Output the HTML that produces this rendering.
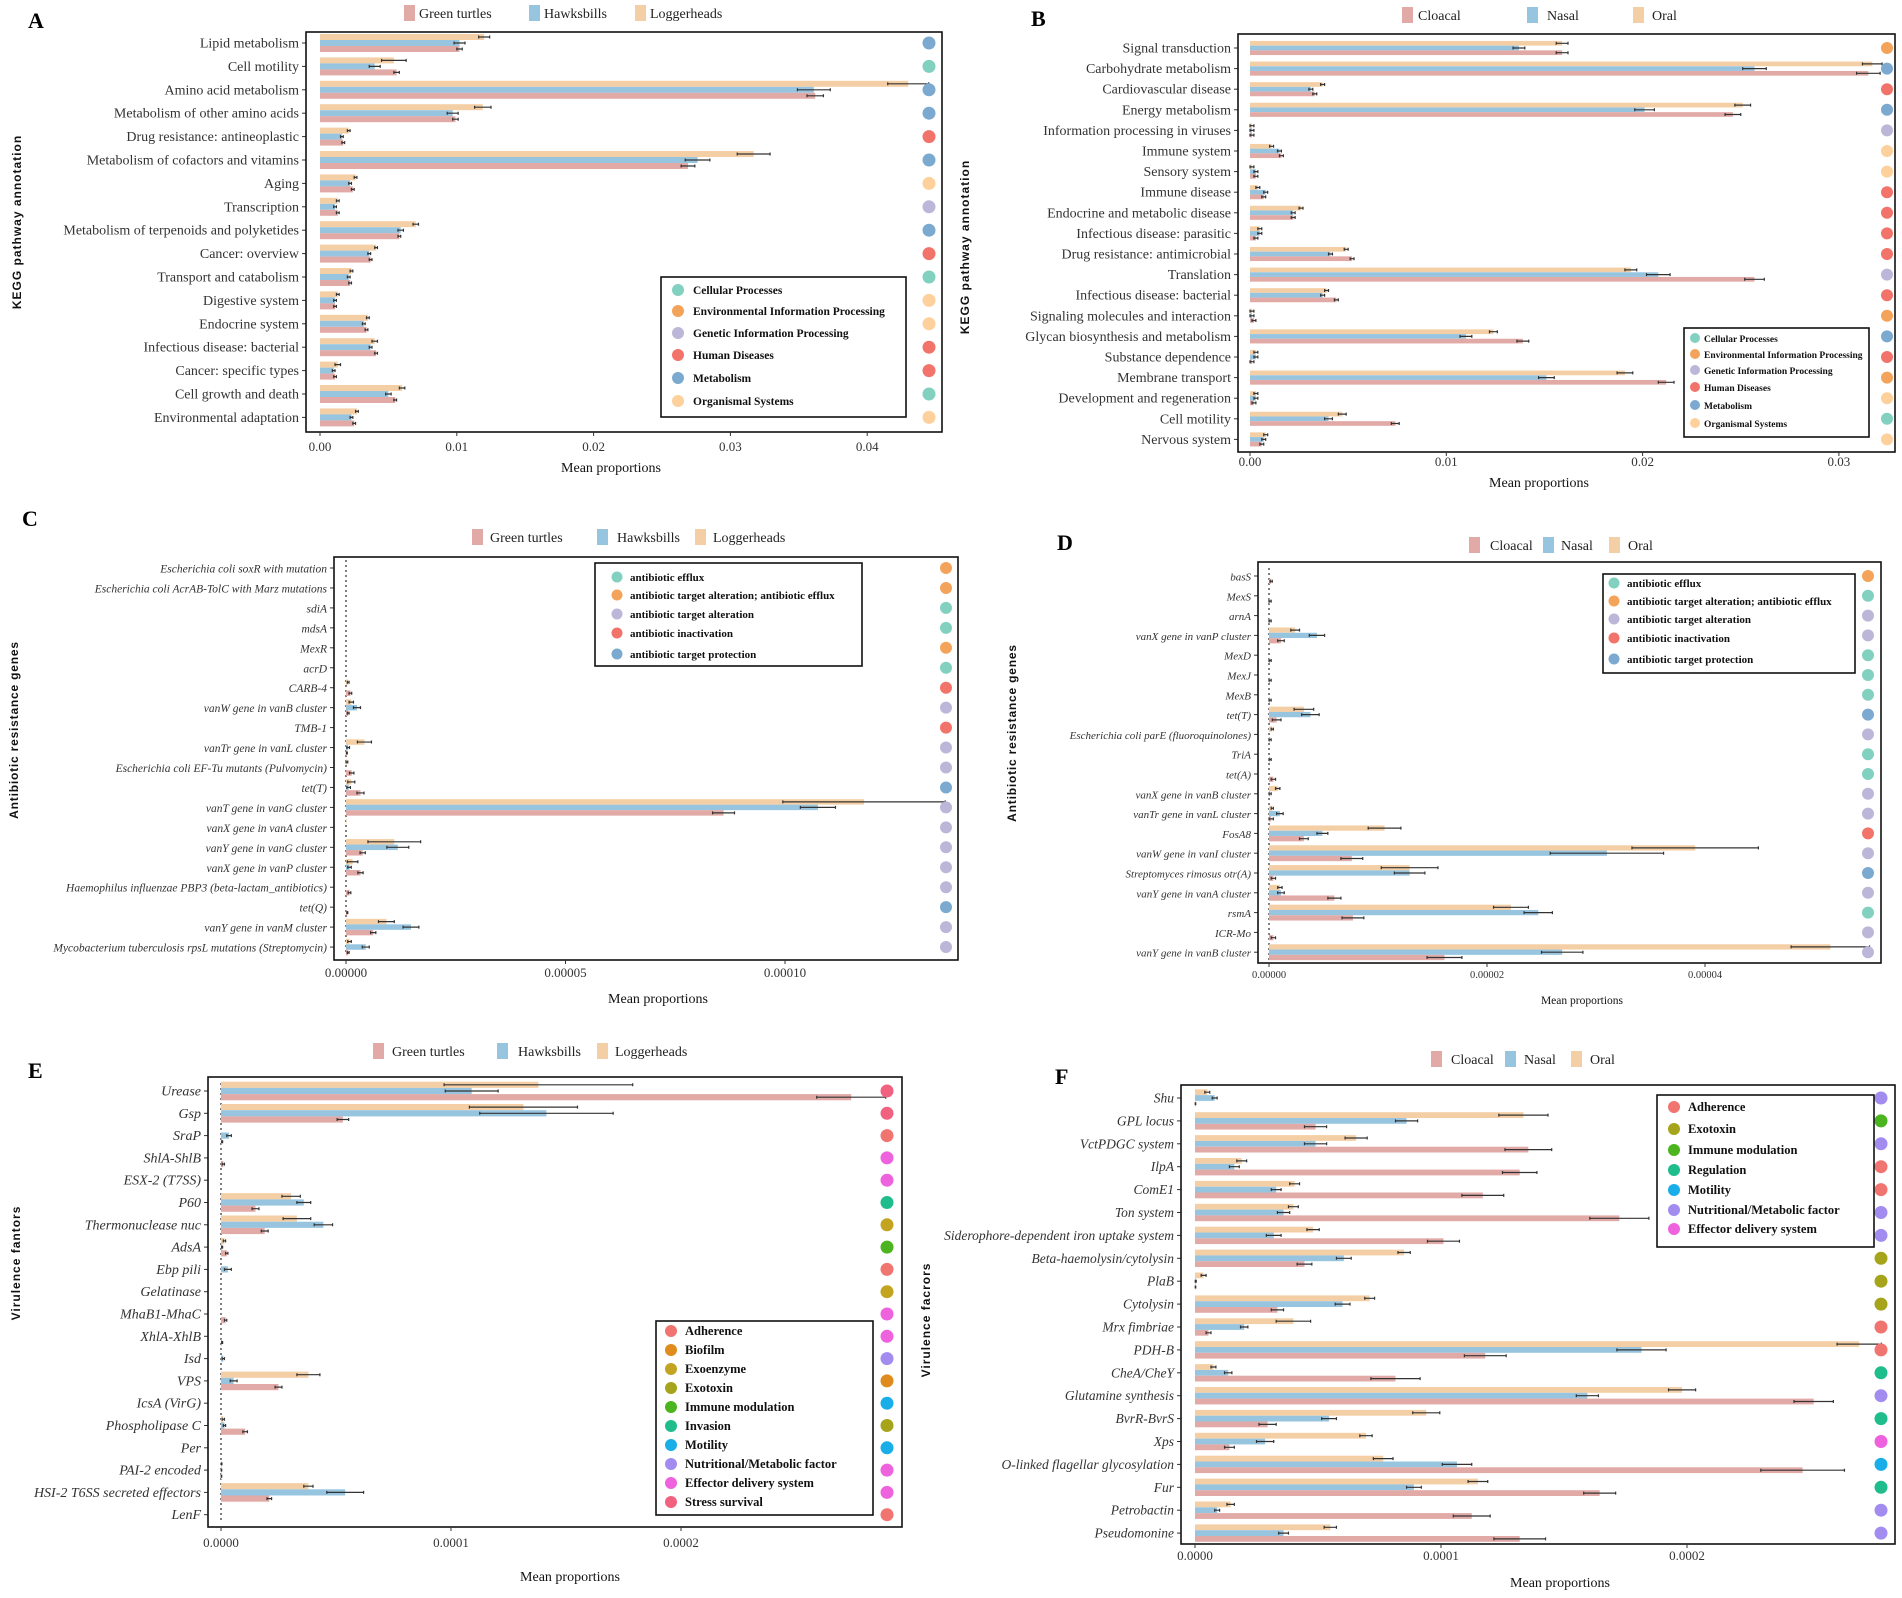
<!DOCTYPE html>
<html><head><meta charset="utf-8"><title>Functional profiles</title>
<style>
html,body{margin:0;padding:0;background:#fff;}
svg{display:block;font-family:"Liberation Serif",serif;}
</style></head>
<body>
<svg id="fig" width="1902" height="1598" viewBox="0 0 1902 1598" xmlns="http://www.w3.org/2000/svg"></svg>
<script>
// ---------- Panel A data ----------
const aCategories=["Lipid metabolism","Cell motility","Amino acid metabolism","Metabolism of other amino acids","Drug resistance: antineoplastic","Metabolism of cofactors and vitamins","Aging","Transcription","Metabolism of terpenoids and polyketides","Cancer: overview","Transport and catabolism","Digestive system","Endocrine system","Infectious disease: bacterial","Cancer: specific types","Cell growth and death","Environmental adaptation"];
const aLoggerheads=[0.0120,0.0054,0.0430,0.0119,0.0021,0.0317,0.0026,0.0013,0.0070,0.0041,0.0023,0.0013,0.0035,0.0040,0.0013,0.0060,0.0027];
const aHawksbills=[0.0102,0.0040,0.0361,0.0097,0.0016,0.0276,0.0022,0.0011,0.0059,0.0036,0.0021,0.0011,0.0032,0.0037,0.0010,0.0050,0.0023];
const aGreenTurtles=[0.0102,0.0056,0.0362,0.0099,0.0017,0.0269,0.0024,0.0013,0.0058,0.0037,0.0022,0.0011,0.0034,0.0041,0.0011,0.0055,0.0025];
const aErrLoggerheads=[0.0004,0.0009,0.0015,0.0006,0.0001,0.0012,0.0001,0.0001,0.0002,0.0001,0.0001,0.0001,0.0001,0.0002,0.0002,0.0002,0.0001];
const aErrHawksbills=[0.0004,0.0004,0.0012,0.0004,0.0001,0.0009,0.0001,0.0001,0.0002,0.0001,0.0001,0.0001,0.0001,0.0001,0.0001,0.0002,0.0001];
const aErrGreenTurtles=[0.0002,0.0002,0.0006,0.0002,0.0001,0.0005,0.0001,0.0001,0.0001,0.0001,0.0001,0.0001,0.0001,0.0001,0.0001,0.0001,0.0001];
const aClasses=["M","C","M","M","H","M","O","G","M","H","C","O","O","H","H","C","O"];
const aTicks=[0,0.01,0.02,0.03,0.04];
const aTickLabels=["0.00","0.01","0.02","0.03","0.04"];

// ---------- Panel B data ----------
const bCategories=["Signal transduction","Carbohydrate metabolism","Cardiovascular disease","Energy metabolism","Information processing in viruses","Immune system","Sensory system","Immune disease","Endocrine and metabolic disease","Infectious disease: parasitic","Drug resistance: antimicrobial","Translation","Infectious disease: bacterial","Signaling molecules and interaction","Glycan biosynthesis and metabolism","Substance dependence","Membrane transport","Development and regeneration","Cell motility","Nervous system"];
const bOral=[0.0159,0.0317,0.0037,0.0251,0.0001,0.0011,0.0001,0.0004,0.0026,0.0005,0.0049,0.0194,0.0039,0.0001,0.0124,0.0003,0.0191,0.0003,0.0047,0.0008];
const bNasal=[0.0137,0.0257,0.0031,0.0201,0.0001,0.0015,0.0003,0.0008,0.0022,0.0005,0.0041,0.0208,0.0037,0.0001,0.0110,0.0003,0.0151,0.0003,0.0040,0.0007];
const bCloacal=[0.0159,0.0315,0.0033,0.0246,0.0001,0.0016,0.0003,0.0007,0.0022,0.0003,0.0052,0.0257,0.0044,0.0002,0.0139,0.0001,0.0212,0.0002,0.0074,0.0006];
const bErrOral=[0.0003,0.0005,0.0001,0.0004,0.0001,0.0001,0.0001,0.0001,0.0001,0.0001,0.0001,0.0003,0.0001,0.0001,0.0002,0.0001,0.0004,0.0001,0.0002,0.0001];
const bErrNasal=[0.0003,0.0006,0.0001,0.0005,0.0001,0.0001,0.0001,0.0001,0.0001,0.0001,0.0001,0.0006,0.0001,0.0001,0.0003,0.0001,0.0004,0.0001,0.0002,0.0001];
const bErrCloacal=[0.0003,0.0006,0.0001,0.0004,0.0001,0.0001,0.0001,0.0001,0.0001,0.0001,0.0001,0.0005,0.0001,0.0001,0.0003,0.0001,0.0004,0.0001,0.0002,0.0001];
const bClasses=["E","M","H","M","G","O","O","H","H","H","H","G","H","E","M","H","E","O","C","O"];
const bTicks=[0,0.01,0.02,0.03];
const bTickLabels=["0.00","0.01","0.02","0.03"];

// ---------- Panel C data ----------
const cCategories=["Escherichia coli soxR with mutation","Escherichia coli AcrAB-TolC with Marz mutations","sdiA","mdsA","MexR","acrD","CARB-4","vanW gene in vanB cluster","TMB-1","vanTr gene in vanL cluster","Escherichia coli EF-Tu mutants (Pulvomycin)","tet(T)","vanT gene in vanG cluster","vanX gene in vanA cluster","vanY gene in vanG cluster","vanX gene in vanP cluster","Haemophilus influenzae PBP3 (beta-lactam_antibiotics)","tet(Q)","vanY gene in vanM cluster","Mycobacterium tuberculosis rpsL mutations (Streptomycin)"];
const cLoggerheads=[0,0,0,0,0,0,0.05e-5,0.12e-5,0,0.42e-5,0.02e-5,0.12e-5,11.8e-5,0.01e-5,1.1e-5,0.15e-5,0,0,0.92e-5,0.08e-5];
const cHawksbills=[0,0,0,0,0,0,0,0.25e-5,0,0.05e-5,0,0.06e-5,10.75e-5,0,1.18e-5,0.08e-5,0,0,1.48e-5,0.45e-5];
const cGreenTurtles=[0,0,0,0,0,0,0.1e-5,0.05e-5,0,0.02e-5,0.13e-5,0.33e-5,8.6e-5,0,0.38e-5,0.33e-5,0.08e-5,0.03e-5,0.62e-5,0.05e-5];
const cErrLoggerheads=[0,0,0,0,0,0,0.02e-5,0.05e-5,0,0.16e-5,0.02e-5,0.08e-5,1.85e-5,0,0.6e-5,0.12e-5,0,0,0.18e-5,0.04e-5];
const cErrHawksbills=[0,0,0,0,0,0,0,0.08e-5,0,0.03e-5,0,0.04e-5,0.4e-5,0,0.25e-5,0.04e-5,0,0,0.18e-5,0.08e-5];
const cErrGreenTurtles=[0,0,0,0,0,0,0.03e-5,0.02e-5,0,0.01e-5,0.05e-5,0.08e-5,0.25e-5,0,0.06e-5,0.06e-5,0.03e-5,0.01e-5,0.06e-5,0.02e-5];
const cClasses=["tae","tae","ef","ef","tae","ef","ia","ta","ia","ta","ta","tp","ta","ta","ta","ta","ta","tp","ta","ta"];
const cTicks=[0,5e-5,10e-5];
const cTickLabels=["0.00000","0.00005","0.00010"];

// ---------- Panel D data ----------
const dCategories=["basS","MexS","arnA","vanX gene in vanP cluster","MexD","MexJ","MexB","tet(T)","Escherichia coli parE (fluoroquinolones)","TriA","tet(A)","vanX gene in vanB cluster","vanTr gene in vanL cluster","FosA8","vanW gene in vanI cluster","Streptomyces rimosus otr(A)","vanY gene in vanA cluster","rsmA","ICR-Mo","vanY gene in vanB cluster"];
const dOral=[0,0,0,0.24e-5,0,0,0,0.32e-5,0.03e-5,0,0,0.08e-5,0.03e-5,1.06e-5,3.91e-5,1.29e-5,0.1e-5,2.22e-5,0,5.15e-5];
const dNasal=[0,0,0,0.44e-5,0,0,0,0.38e-5,0,0,0,0.01e-5,0.1e-5,0.49e-5,3.1e-5,1.29e-5,0.11e-5,2.47e-5,0,2.69e-5];
const dCloacal=[0.02e-5,0.01e-5,0.01e-5,0.11e-5,0.01e-5,0.01e-5,0.01e-5,0.07e-5,0.01e-5,0.01e-5,0.04e-5,0,0.02e-5,0.32e-5,0.76e-5,0.04e-5,0.6e-5,0.77e-5,0.04e-5,1.61e-5];
const dErrOral=[0,0,0,0.04e-5,0,0,0,0.09e-5,0.01e-5,0,0,0.02e-5,0.01e-5,0.15e-5,0.58e-5,0.26e-5,0.02e-5,0.16e-5,0,0.36e-5];
const dErrNasal=[0,0,0,0.07e-5,0,0,0,0.08e-5,0,0,0,0.01e-5,0.03e-5,0.05e-5,0.52e-5,0.14e-5,0.03e-5,0.13e-5,0,0.19e-5];
const dErrCloacal=[0.01e-5,0.01e-5,0.01e-5,0.03e-5,0.01e-5,0.01e-5,0.01e-5,0.04e-5,0.01e-5,0.01e-5,0.02e-5,0,0.02e-5,0.04e-5,0.1e-5,0.02e-5,0.06e-5,0.1e-5,0.02e-5,0.16e-5];
const dClasses=["tae","ef","ta","ta","ef","ef","ef","tp","ta","ef","ef","ta","ta","ia","ta","tp","ta","ef","ta","ta"];
const dTicks=[0,2e-5,4e-5];
const dTickLabels=["0.00000","0.00002","0.00004"];

// ---------- Panel E data ----------
const eCategories=["Urease","Gsp","SraP","ShlA-ShlB","ESX-2 (T7SS)","P60","Thermonuclease nuc","AdsA","Ebp pili","Gelatinase","MhaB1-MhaC","XhlA-XhlB","Isd","VPS","IcsA (VirG)","Phospholipase C","Per","PAI-2 encoded","HSI-2 T6SS secreted effectors","LenF"];
const eLoggerheads=[13.8e-5,13.15e-5,0,0,0,3.05e-5,3.3e-5,0.15e-5,0,0,0,0,0,3.8e-5,0,0.1e-5,0,0.03e-5,3.8e-5,0];
const eHawksbills=[10.9e-5,14.15e-5,0.35e-5,0,0,3.6e-5,4.45e-5,0.05e-5,0.3e-5,0,0,0,0.1e-5,0.55e-5,0,0.15e-5,0,0.02e-5,5.4e-5,0];
const eGreenTurtles=[27.4e-5,5.3e-5,0.05e-5,0.1e-5,0,1.5e-5,1.9e-5,0.25e-5,0,0,0.2e-5,0.05e-5,0,2.5e-5,0,1.05e-5,0,0.02e-5,2.1e-5,0];
const eErrLoggerheads=[4.1e-5,2.35e-5,0,0,0,0.4e-5,0.6e-5,0.05e-5,0,0,0,0,0,0.5e-5,0,0.05e-5,0,0.01e-5,0.2e-5,0];
const eErrHawksbills=[1.15e-5,2.9e-5,0.1e-5,0,0,0.3e-5,0.4e-5,0.02e-5,0.15e-5,0,0,0,0.05e-5,0.15e-5,0,0.05e-5,0,0.01e-5,0.8e-5,0];
const eErrGreenTurtles=[1.5e-5,0.25e-5,0.02e-5,0.05e-5,0,0.15e-5,0.15e-5,0.05e-5,0,0,0.05e-5,0.02e-5,0,0.15e-5,0,0.1e-5,0,0.01e-5,0.1e-5,0];
const eClasses=["St","St","Ad","Ef","Ef","Inv","Exz","Im","Ad","Exz","Ef","Ef","Nu","Bi","Mo","Ext","Mo","Ef","Ef","Ad"];
const eTicks=[0,1e-4,2e-4];
const eTickLabels=["0.0000","0.0001","0.0002"];

// ---------- Panel F data ----------
const fCategories=["Shu","GPL locus","VctPDGC system","IlpA","ComE1","Ton system","Siderophore-dependent iron uptake system","Beta-haemolysin/cytolysin","PlaB","Cytolysin","Mrx fimbriae","PDH-B","CheA/CheY","Glutamine synthesis","BvrR-BvrS","Xps","O-linked flagellar glycosylation","Fur","Petrobactin","Pseudomonine"];
const fOral=[0.5e-5,13.35e-5,6.55e-5,1.9e-5,4.05e-5,4.0e-5,4.8e-5,8.5e-5,0.35e-5,7.1e-5,4.0e-5,27.0e-5,0.75e-5,19.8e-5,9.4e-5,6.95e-5,7.65e-5,11.5e-5,1.45e-5,5.5e-5];
const fNasal=[0.8e-5,8.6e-5,4.9e-5,1.6e-5,3.3e-5,3.6e-5,3.2e-5,6.05e-5,0.03e-5,6.0e-5,2.0e-5,18.15e-5,1.35e-5,15.95e-5,5.45e-5,2.85e-5,10.65e-5,8.9e-5,0.9e-5,3.6e-5];
const fCloacal=[0.02e-5,4.9e-5,13.55e-5,13.2e-5,11.7e-5,17.25e-5,10.1e-5,4.45e-5,0.02e-5,3.35e-5,0.55e-5,11.8e-5,8.15e-5,25.15e-5,2.95e-5,1.4e-5,24.7e-5,16.45e-5,11.25e-5,13.2e-5];
const fErrOral=[0.1e-5,1.0e-5,0.45e-5,0.2e-5,0.2e-5,0.2e-5,0.25e-5,0.25e-5,0.1e-5,0.2e-5,0.7e-5,0.9e-5,0.1e-5,0.55e-5,0.55e-5,0.25e-5,0.4e-5,0.4e-5,0.15e-5,0.25e-5];
const fErrNasal=[0.1e-5,0.45e-5,0.45e-5,0.2e-5,0.2e-5,0.25e-5,0.3e-5,0.3e-5,0.02e-5,0.3e-5,0.15e-5,1.0e-5,0.15e-5,0.45e-5,0.3e-5,0.35e-5,0.6e-5,0.3e-5,0.1e-5,0.2e-5];
const fErrCloacal=[0.01e-5,0.45e-5,0.95e-5,0.7e-5,0.85e-5,1.2e-5,0.65e-5,0.3e-5,0.01e-5,0.25e-5,0.1e-5,0.85e-5,1.0e-5,0.8e-5,0.35e-5,0.2e-5,1.7e-5,0.65e-5,0.75e-5,1.05e-5];
const fClasses=["Nu","Im","Nu","Ad","Ad","Nu","Nu","Ext","Ext","Ext","Ad","Ad","Re","Nu","Re","Ef","Mo","Re","Nu","Nu"];
const fTicks=[0,1e-4,2e-4];
const fTickLabels=["0.0000","0.0001","0.0002"];

// ---------- colours ----------
const COL_O="#f4cfa6",COL_B="#97c5e0",COL_P="#e2aaa6";
const keggCol={C:"#82d1c0",E:"#f4a45a",G:"#bcb7d9",H:"#f2736a",M:"#7ba9cf",O:"#fdd09c"};
const argCol={ef:"#82d1c0",tae:"#f4a45a",ta:"#bcb7d9",ia:"#f2736a",tp:"#7ba9cf"};
const vfCol={Ad:"#f07470",Bi:"#e08b1e",Exz:"#c2a420",Ext:"#a5a41a",Im:"#4cb41e",Inv:"#1fbc8c",Mo:"#1aaee8",Nu:"#a28cf0",Ef:"#ee62de",St:"#f0627f",Re:"#1fbc8c"};

const svg=document.getElementById("fig");
const NS="http://www.w3.org/2000/svg";
function mk(tag,attrs,parent){const e=document.createElementNS(NS,tag);for(const k in attrs)e.setAttribute(k,attrs[k]);(parent||svg).appendChild(e);return e;}
function txt(x,y,s,attrs,parent){const t=mk("text",Object.assign({x:x,y:y},attrs),parent);t.textContent=s;return t;}

function panel(p){
  const g=mk("g",{});
  
  
  const [L,T,R,B]=p.box;
  const xs=v=>p.x0+v*p.ppu;
  const ys=i=>p.y0+i*p.dy;
  // panel letter
  const lt=txt(p.letter[0],p.letter[1],p.letter[2],{"font-size":22,"font-weight":"bold","fill":"#000"},g);
  
  
  // top legend
  const tl=mk("g",{},g);
  
  
  p.top.forEach((it,k)=>{
    const sw=mk("rect",{x:it[0],y:p.topY-8,width:11,height:16,fill:[COL_P,COL_B,COL_O][k]},tl);
    
    
    const t=txt(it[1],p.topY+5,it[2],{"font-size":p.topFs,"fill":"#222"},tl);
    
    
  });
  // zero dotted line
  if(p.dotted){
    const dl=mk("line",{x1:p.x0,x2:p.x0,y1:ys(0)-8,y2:ys(p.cats.length-1)+8,stroke:"#000","stroke-width":1,"stroke-dasharray":"2,3"},g);
    
    
  }
  const series=[p.s[0],p.s[1],p.s[2]];
  const errs=[p.e[0],p.e[1],p.e[2]];
  const cols=[COL_O,COL_B,COL_P];
  const names=["series-1","series-2","series-3"];
  p.cats.forEach((c,i)=>{
    const yc=ys(i);
    for(let k=0;k<3;k++){
      const v=series[k][i];
      const y=yc-1.5*p.bh+k*p.bh;
      const w=Math.max(0,xs(v)-p.x0);
      const r=mk("rect",{x:p.x0,y:y,width:w,height:p.bh,fill:cols[k]},g);
      
      
      const e=errs[k][i];
      if(e>0){
        const cy=y+p.bh/2;
        const el=mk("path",{d:"M"+xs(v-e)+" "+cy+"H"+xs(v+e)+"M"+xs(v-e)+" "+(cy-1.5)+"V"+(cy+1.5)+"M"+xs(v+e)+" "+(cy-1.5)+"V"+(cy+1.5),stroke:"#333","stroke-width":1.2,fill:"none"},g);
        
        
      }
    }
    // category label
    const lab=txt(L-7,yc+4.5,c,{"font-size":p.labFs,"fill":"#333","text-anchor":"end","font-style":p.italic?"italic":"normal"},g);
    
    
    const tk=mk("line",{x1:L-4,x2:L,y1:yc,y2:yc,stroke:"#333","stroke-width":1},g);
    
    
    // class dot
    const dot=mk("circle",{cx:p.dotX,cy:yc,r:p.dotR,fill:p.colMap[p.cls[i]]},g);
    
    
  });
  // box
  const bx=mk("rect",{x:L,y:T,width:R-L,height:B-T,fill:"none",stroke:"#111","stroke-width":1.6},g);
  
  
  // x ticks
  p.ticks.forEach((t,k)=>{
    const tk=mk("line",{x1:xs(t),x2:xs(t),y1:B,y2:B+4,stroke:"#333","stroke-width":1},g);
    
    
    const tt=txt(xs(t),p.tickY,p.tickLabels[k],{"font-size":p.tickFs,"fill":"#333","text-anchor":"middle"},g);
    
    
  });
  const xt=txt(p.xTitle[0],p.xTitle[1],"Mean proportions",{"font-size":p.xTitle[2],"fill":"#111","text-anchor":"middle"},g);
  
  
  const yt=txt(0,0,p.yTitle[2],{"font-size":p.yTitle[3],"font-weight":"bold","font-family":"Liberation Sans, sans-serif","letter-spacing":p.yTitle[4],"fill":"#111","text-anchor":"middle",transform:"translate("+p.yTitle[0]+","+p.yTitle[1]+") rotate(-90)"},g);
  
  
  // class legend
  const lg=mk("g",{},g);
  
  
  const [lx1,ly1,lx2,ly2]=p.leg.box;
  const lb=mk("rect",{x:lx1,y:ly1,width:lx2-lx1,height:ly2-ly1,fill:"#fff",stroke:"#111","stroke-width":1.6},lg);
  
  
  p.leg.items.forEach((it,k)=>{
    const y=p.leg.ys[k];
    const c=mk("circle",{cx:p.leg.dx,cy:y,r:p.leg.r,fill:p.colMap[it[0]]},lg);
    
    
    const t=txt(p.leg.tx,y+4,it[1],{"font-size":p.leg.fs,"font-weight":"bold","fill":"#111"},lg);
    
    
  });
}

const keggItems=[["C","Cellular Processes"],["E","Environmental Information Processing"],["G","Genetic Information Processing"],["H","Human Diseases"],["M","Metabolism"],["O","Organismal Systems"]];
const argItems=[["ef","antibiotic efflux"],["tae","antibiotic target alteration; antibiotic efflux"],["ta","antibiotic target alteration"],["ia","antibiotic inactivation"],["tp","antibiotic target protection"]];

panel({id:"panel-a",box:[306,32,942,432],x0:320,ppu:13680,y0:43,dy:23.4,bh:6,dotX:929,dotR:6.5,
  cats:aCategories,s:[aLoggerheads,aHawksbills,aGreenTurtles],e:[aErrLoggerheads,aErrHawksbills,aErrGreenTurtles],cls:aClasses,colMap:keggCol,
  ticks:aTicks,tickLabels:aTickLabels,tickY:451,tickFs:13,labFs:14,italic:false,dotted:false,
  letter:[28,28,"A"],top:[[404,419,"Green turtles"],[529,544,"Hawksbills"],[635,650,"Loggerheads"]],topY:13,topFs:14,
  xTitle:[611,472,14],yTitle:[21,222,"KEGG pathway annotation",12,1],
  leg:{box:[661,277,906,417],items:keggItems,ys:[290,311,333,355,378,401],dx:678,r:6,tx:693,fs:11.5}});

panel({id:"panel-b",box:[1238,34,1895,452],x0:1250,ppu:19630,y0:48,dy:20.6,bh:4.7,dotX:1887,dotR:6,
  cats:bCategories,s:[bOral,bNasal,bCloacal],e:[bErrOral,bErrNasal,bErrCloacal],cls:bClasses,colMap:keggCol,
  ticks:bTicks,tickLabels:bTickLabels,tickY:466,tickFs:13,labFs:14,italic:false,dotted:false,
  letter:[1031,26,"B"],top:[[1402,1418,"Cloacal"],[1527,1547,"Nasal"],[1633,1652,"Oral"]],topY:15,topFs:14,
  xTitle:[1539,487,14],yTitle:[969,247,"KEGG pathway annotation",12,1],
  leg:{box:[1684,328,1869,437],items:keggItems,ys:[338,354,370,387,405,423],dx:1695,r:5,tx:1704,fs:9.5}});

panel({id:"panel-c",box:[334,557,958,960],x0:346,ppu:4390000,y0:568,dy:19.95,bh:5.5,dotX:946,dotR:6,
  cats:cCategories,s:[cLoggerheads,cHawksbills,cGreenTurtles],e:[cErrLoggerheads,cErrHawksbills,cErrGreenTurtles],cls:cClasses,colMap:argCol,
  ticks:cTicks,tickLabels:cTickLabels,tickY:977,tickFs:13,labFs:11.5,italic:true,dotted:true,
  letter:[22,526,"C"],top:[[472,490,"Green turtles"],[597,617,"Hawksbills"],[695,713,"Loggerheads"]],topY:537,topFs:14,
  xTitle:[658,1003,14],yTitle:[18,730,"Antibiotic resistance genes",12,0.8],
  leg:{box:[595,563,862,666],items:argItems,ys:[577,595,614,633,654],dx:617,r:5.5,tx:630,fs:11}});

panel({id:"panel-d",box:[1258,562,1881,963],x0:1269,ppu:10900000,y0:576,dy:19.8,bh:5.3,dotX:1868,dotR:6,
  cats:dCategories,s:[dOral,dNasal,dCloacal],e:[dErrOral,dErrNasal,dErrCloacal],cls:dClasses,colMap:argCol,
  ticks:dTicks,tickLabels:dTickLabels,tickY:978,tickFs:10.5,labFs:11,italic:true,dotted:true,
  letter:[1057,550,"D"],top:[[1469,1490,"Cloacal"],[1543,1561,"Nasal"],[1609,1628,"Oral"]],topY:545,topFs:14,
  xTitle:[1582,1004,11.5],yTitle:[1016,733,"Antibiotic resistance genes",12,0.8],
  leg:{box:[1603,574,1855,673],items:argItems,ys:[583,601,619,638,659],dx:1614,r:5.5,tx:1627,fs:11}});

const eItems=[["Ad","Adherence"],["Bi","Biofilm"],["Exz","Exoenzyme"],["Ext","Exotoxin"],["Im","Immune modulation"],["Inv","Invasion"],["Mo","Motility"],["Nu","Nutritional/Metabolic factor"],["Ef","Effector delivery system"],["St","Stress survival"]];
const fItems=[["Ad","Adherence"],["Ext","Exotoxin"],["Im","Immune modulation"],["Re","Regulation"],["Mo","Motility"],["Nu","Nutritional/Metabolic factor"],["Ef","Effector delivery system"]];

panel({id:"panel-e",box:[208,1077,902,1527],x0:221,ppu:2300000,y0:1091,dy:22.3,bh:6.2,dotX:887,dotR:6.5,
  cats:eCategories,s:[eLoggerheads,eHawksbills,eGreenTurtles],e:[eErrLoggerheads,eErrHawksbills,eErrGreenTurtles],cls:eClasses,colMap:vfCol,
  ticks:eTicks,tickLabels:eTickLabels,tickY:1547,tickFs:13,labFs:14,italic:true,dotted:true,
  letter:[28,1078,"E"],top:[[373,392,"Green turtles"],[497,518,"Hawksbills"],[597,615,"Loggerheads"]],topY:1051,topFs:14,
  xTitle:[570,1581,14],yTitle:[20,1263,"Virulence fantors",12,1],
  leg:{box:[656,1321,873,1515],items:eItems,ys:[1331,1350,1369,1388,1407,1426,1445,1464,1483,1502],dx:671,r:6,tx:685,fs:12.5}});

panel({id:"panel-f",box:[1181,1085,1895,1544],x0:1195,ppu:2460000,y0:1098,dy:22.9,bh:5.8,dotX:1881,dotR:6.5,
  cats:fCategories,s:[fOral,fNasal,fCloacal],e:[fErrOral,fErrNasal,fErrCloacal],cls:fClasses,colMap:vfCol,
  ticks:fTicks,tickLabels:fTickLabels,tickY:1560,tickFs:13,labFs:13.5,italic:true,dotted:false,
  letter:[1055,1084,"F"],top:[[1431,1451,"Cloacal"],[1505,1524,"Nasal"],[1571,1590,"Oral"]],topY:1059,topFs:14,
  xTitle:[1560,1587,14],yTitle:[930,1320,"Virulence facrors",12,1],
  leg:{box:[1657,1095,1874,1247],items:fItems,ys:[1107,1129,1150,1170,1190,1210,1229],dx:1674,r:6,tx:1688,fs:12.5}});
</script>
</body></html>
